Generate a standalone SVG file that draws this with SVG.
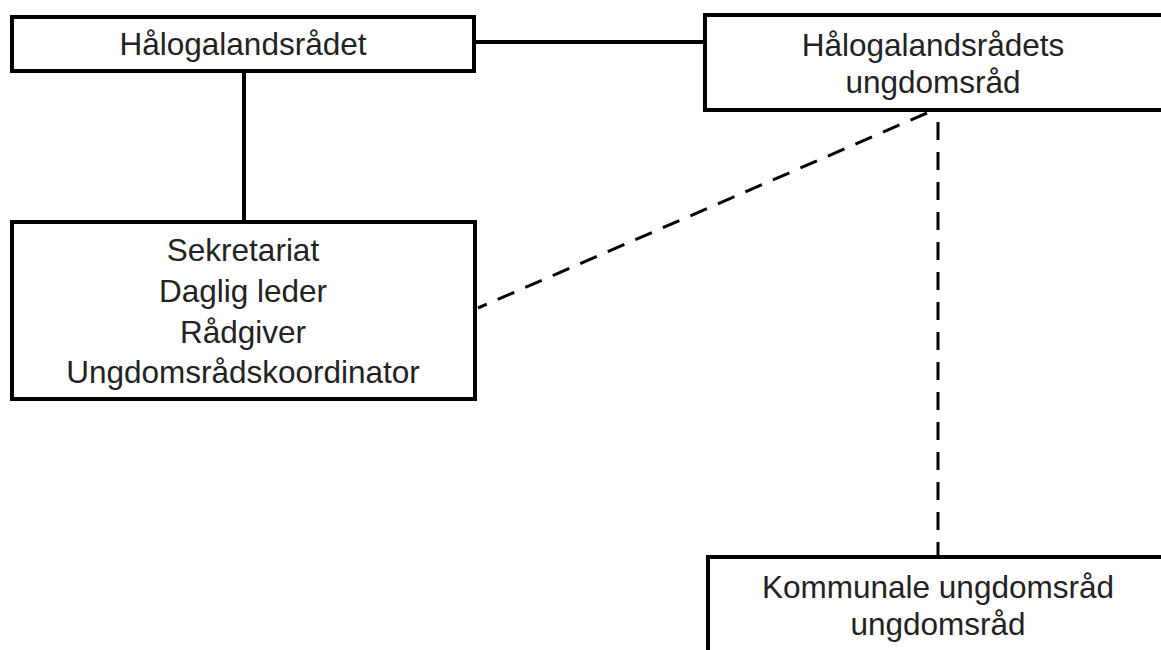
<svg xmlns="http://www.w3.org/2000/svg" width="1161" height="650" viewBox="0 0 1161 650">
<style>
.box{fill:#fff;stroke:#000;stroke-width:4}
.t{font-family:"Liberation Sans",Arial,sans-serif;font-size:31.5px;fill:#222;text-anchor:middle}
.solid{stroke:#000;stroke-width:4;fill:none}
.dash{stroke:#000;stroke-width:3;fill:none;stroke-dasharray:18 12}
</style>
<rect width="1161" height="650" fill="#fff"/>
<g id="connectors">
<line class="solid" x1="476" y1="42" x2="705" y2="42"/>
<line class="solid" x1="244" y1="72" x2="244" y2="221"/>
<line class="dash" x1="927" y1="113" x2="478" y2="308"/>
<line class="dash" x1="938" y1="122" x2="938" y2="556"/>
</g>
<g id="halogalandsradet">
<rect class="box" x="12" y="17" width="462" height="54"/>
<text class="t" x="243" y="55">Hålogalandsrådet</text>
</g>
<g id="ungdomsrad">
<rect class="box" x="705" y="15" width="470" height="95"/>
<text class="t" x="933" y="56">Hålogalandsrådets</text>
<text class="t" x="933" y="93">ungdomsråd</text>
</g>
<g id="sekretariat">
<rect class="box" x="12" y="222" width="463" height="177"/>
<text class="t" x="243" y="261">Sekretariat</text>
<text class="t" x="243" y="302">Daglig leder</text>
<text class="t" x="243" y="343">Rådgiver</text>
<text class="t" x="243" y="383">Ungdomsrådskoordinator</text>
</g>
<g id="kommunale">
<rect class="box" x="708" y="557" width="470" height="120"/>
<text class="t" x="938" y="598">Kommunale ungdomsråd</text>
<text class="t" x="938" y="635">ungdomsråd</text>
</g>
</svg>
